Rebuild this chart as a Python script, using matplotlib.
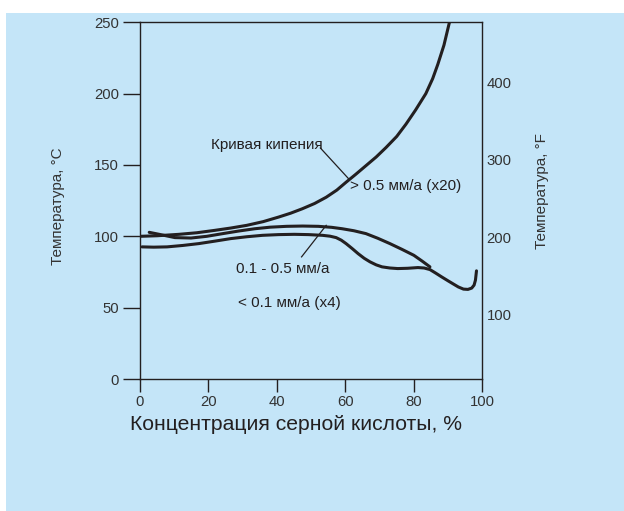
import matplotlib
matplotlib.use("Agg")
import matplotlib.pyplot as plt
from matplotlib.patches import Rectangle

plt.rcParams['font.family'] = ['Liberation Sans', 'DejaVu Sans']

# Data
boil_x = [0, 5, 11.4, 16.6, 21.9, 26.5, 31.2, 36, 40.5, 44, 47.4, 51, 54.4, 57.5, 60.2, 63, 66, 69, 71.9, 75, 77.7, 80.5, 83.5, 85.5, 87, 88.8, 90.5]
boil_y = [100, 100.4, 101.4, 102.5, 104.2, 105.8, 107.7, 110.3, 113.5, 116.2, 119.3, 123.0, 127.4, 132.4, 137.9, 143.4, 149.5, 155.6, 162.3, 170.0, 178.6, 188.5, 200.0, 210.5, 220.5, 234.0, 251]

mid_x = [2.7, 5.6, 10.2, 14.9, 19.5, 24.2, 28.8, 33.5, 38, 42.8, 47.5, 52.1, 56, 59.1, 62.5, 66, 69.5, 73, 76.5, 80, 82.5, 84.7]
mid_y = [102.8, 101.4, 99.1, 98.8, 100.0, 101.9, 103.7, 105.3, 106.4, 107.0, 107.2, 107.0, 106.3, 105.3, 103.9, 101.9, 98.6, 94.9, 90.9, 86.7, 82.5, 78.6]

low_x = [0.6, 4, 7.9, 12.5, 17.2, 21.8, 26.5, 31.2, 35.8, 40.5, 45.1, 49.2, 53.3, 55.5, 57.3, 58.8, 60.2, 62, 63.7, 65.5, 67.2, 69, 70.7, 73, 75.3, 78.2, 81.2, 83, 84.7, 86.4, 88.1, 90, 91.6, 93, 94.5, 95.8, 96.9, 97.6, 98, 98.3]
low_y = [92.6, 92.4, 92.6, 93.6, 94.9, 96.6, 98.4, 99.7, 100.7, 101.2, 101.4, 101.2, 100.7, 100.1, 99.1, 97.3, 94.9, 91.4, 87.9, 84.6, 82.1, 80.0, 78.6, 77.8, 77.4, 77.6, 78.1, 77.8, 76.7, 74.2, 71.6, 68.8, 66.5, 64.5, 63.0, 62.8, 63.7, 65.8, 69.3, 75.8]

x_ticks = [0, 20, 40, 60, 80, 100]
c_ticks = [0, 50, 100, 150, 200, 250]
f_ticks = [100, 200, 300, 400]

xlabel = "Концентрация серной кислоты, %"
ylabel_c = "Температура, °C"
ylabel_f = "Температура, °F"

W, H = 624, 511
fig = plt.figure(figsize=(W / 100, H / 100), dpi=100)
fig.patch.set_facecolor('white')
bg = '#c4e5f8'
fig.patches.append(Rectangle((6 / W, 0), 1 - 6 / W, 1 - 13 / H, transform=fig.transFigure,
                             facecolor=bg, edgecolor='none', zorder=-10))

ink = '#231f20'
tick_ink = '#333333'
ax = fig.add_axes([140 / W, 1 - 379 / H, 342.3 / W, 356.7 / H])
ax.patch.set_alpha(0)
ax.set_xlim(0, 100)
ax.set_ylim(0, 250)

lw = 2.2
ax.plot(boil_x, boil_y, color=ink, lw=lw, solid_capstyle='round', solid_joinstyle='round')
ax.plot(mid_x, mid_y, color=ink, lw=lw, solid_capstyle='round', solid_joinstyle='round')
ax.plot(low_x, low_y, color=ink, lw=lw, solid_capstyle='round', solid_joinstyle='round')

for s in ax.spines.values():
    s.set_color(ink)
    s.set_linewidth(1.0)

tfs = 10.7
ax.set_xticks(x_ticks)
ax.set_yticks(c_ticks)
ax.tick_params(axis='x', direction='out', length=9.4, width=1.0, color=ink, labelsize=tfs,
               labelcolor=tick_ink, pad=2)
ax.tick_params(axis='y', direction='out', length=12.2, width=1.0, color=ink, labelsize=tfs,
               labelcolor=tick_ink, pad=3)

ax2 = ax.twinx()
ax2.set_ylim(16.3, 478.2)
ax2.set_yticks(f_ticks)
ax2.tick_params(axis='y', length=0, labelsize=tfs, labelcolor=tick_ink, pad=3)
for s in ax2.spines.values():
    s.set_visible(False)

# annotations
fs = 11
ax.text(20.7, 164.0, "Кривая кипения", fontsize=fs, color=ink, va='center', ha='left')
ax.plot([52.7, 61.0], [161.9, 140.2], color=ink, lw=0.9)
ax.text(61.4, 135.6, "> 0.5 мм/а (x20)", fontsize=fs, color=ink, va='center', ha='left')
ax.text(28.0, 77.4, "0.1 - 0.5 мм/а", fontsize=fs, color=ink, va='center', ha='left')
ax.plot([47.2, 54.4], [85.6, 107.7], color=ink, lw=0.9)
ax.text(28.6, 53.5, "< 0.1 мм/а (x4)", fontsize=fs, color=ink, va='center', ha='left')

fig.text(295.6 / W, 1 - 424 / H, xlabel, fontsize=15.2, color=ink, ha='center', va='center')
fig.text(58 / W, 1 - 206 / H, ylabel_c, fontsize=11, color=tick_ink, ha='center', va='center', rotation=90)
fig.text(541.7 / W, 1 - 191 / H, ylabel_f, fontsize=11, color=tick_ink, ha='center', va='center', rotation=90)

fig.savefig('out.png', dpi=100, facecolor='white')
